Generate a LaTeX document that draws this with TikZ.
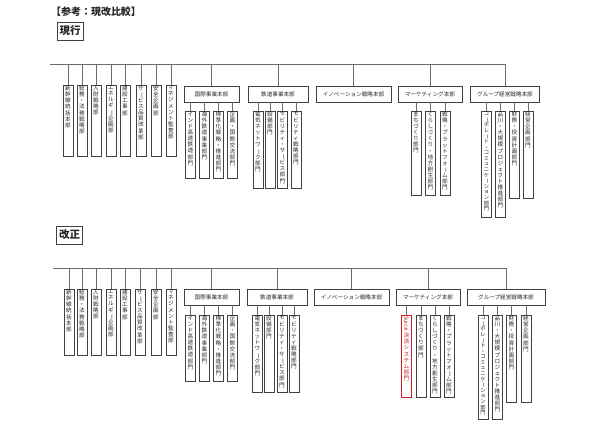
\documentclass[tikz,border=0pt]{standalone}
\usepackage{fontspec}
\setmainfont{Noto Sans CJK JP}
\usepackage{graphicx}
\definecolor{boxline}{gray}{0.25}
\definecolor{linkline}{gray}{0.42}
\definecolor{suicared}{RGB}{205,25,35}

% vertical (tategaki) stacking of a label, one character per line
\ExplSyntaxOn
\seq_new:N \l_tate_seq
\NewDocumentCommand \tatestack { m }
  {
    \seq_clear:N \l_tate_seq
    \exp_args:No \tl_map_inline:nn { #1 }
      {
        \str_if_eq:nnTF { ##1 } { ー }
          { \seq_put_right:Nn \l_tate_seq { \rotatebox[origin=c]{-90}{ー} } }
          { \seq_put_right:Nn \l_tate_seq { ##1 } }
      }
    \seq_use:Nn \l_tate_seq { \\ }
  }
\ExplSyntaxOff
\newcommand\tate[2]{\parbox[c][#1pt][t]{10pt}{\lineskiplimit=-3pt\lineskip=.4pt\vskip.6pt\centering\tatestack{#2}}}

\begin{document}
\begin{tikzpicture}
  [x=1pt,y=-1pt,every node/.style={inner sep=0pt,text=black!85},
   dept/.style={draw=boxline,line width=.7pt,anchor=north,font=\fontsize{5.6}{6.1}\selectfont},
   deptlong/.style={dept,font=\fontsize{5.3}{5.6}\selectfont},
   newdept/.style={dept,draw=suicared,line width=1.3pt,text=suicared},
   hq/.style={draw=boxline,line width=.7pt,minimum height=16pt,font=\fontsize{5.6}{6}\selectfont},
   tag/.style={draw=boxline,line width=.9pt,minimum width=26pt,minimum height=18pt,font=\fontsize{10.5}{12}\selectfont\bfseries},
   link/.style={draw=linkline,line width=.6pt}]
  \useasboundingbox (0,0) rectangle (600,426);
  \node (title) at (96,12) {\fontsize{10}{12}\selectfont\bfseries 【参考：現改比較】};

  % ---- current (現行)
  \node[tag] (oldtag) at (70,31) {現行};
  \coordinate (oBarL) at (50,64);
  \foreach \x/\i/\txt in {68/1/新幹線統括本部,82/2/総務・法務戦略部,96/3/人財戦略部,111/4/エネルギー企画部,
      125/5/建設工事部,141/6/サービス品質改革部,156/7/安全企画部,171/8/マネジメント監査部}
    \node[dept] (oStaff\i) at (\x,85) {\tate{71}{\txt}};
  \node[hq,minimum width=55pt] (oIntl) at (211.5,94) {国際事業本部};
  \node[hq,minimum width=60pt] (oRail) at (278,94) {鉄道事業本部};
  \node[hq,minimum width=75pt] (oInnov) at (353.5,94) {イノベーション戦略本部};
  \node[hq,minimum width=64pt] (oMkt) at (430,94) {マーケティング本部};
  \node[hq,minimum width=69pt] (oGroup) at (505,94) {グループ経営戦略本部};
  \node[dept] (oIntl1) at (190.5,111) {\tate{67}{インド高速鉄道部門}};
  \node[dept] (oIntl2) at (204.5,111) {\tate{67}{海外鉄道事業部門}};
  \node[dept] (oIntl3) at (218.5,111) {\tate{67}{標準化戦略・推進部門}};
  \node[dept] (oIntl4) at (232.5,111) {\tate{67}{企画・国際交流部門}};
  \node[dept] (oRail1) at (258,111) {\tate{77}{電気ネットワーク部門}};
  \node[dept] (oRail2) at (270,111) {\tate{77}{設備部門}};
  \node[dept] (oRail3) at (282.5,111) {\tate{77}{モビリティ・サービス部門}};
  \node[dept] (oRail4) at (296,111) {\tate{77}{モビリティ戦略部門}};
  \node[dept] (oMkt1) at (416,111) {\tate{84}{まちづくり部門}};
  \node[dept] (oMkt2) at (430.5,111) {\tate{84}{くらしづくり・地方創生部門}};
  \node[dept] (oMkt3) at (445,111) {\tate{84}{戦略・プラットフォーム部門}};
  \node[deptlong] (oGroup1) at (486.5,111) {\tate{106}{コーポレート・コミュニケーション部門}};
  \node[dept] (oGroup2) at (500.5,111) {\tate{106}{品川・大規模プロジェクト推進部門}};
  \node[dept] (oGroup3) at (514.5,111) {\tate{87}{財務・投資計画部門}};
  \node[dept] (oGroup4) at (528,111) {\tate{87}{経営企画部門}};

  \draw[link] (oBarL) -- (oGroup.north |- oBarL);
  \foreach \i in {1,...,8}
    \draw[link] (oStaff\i.north) -- (oStaff\i.north |- oBarL);
  \foreach \g in {oIntl,oRail,oInnov,oMkt,oGroup}
    \draw[link] (\g.north) -- (\g.north |- oBarL);
  \foreach \g/\k in {oIntl/4,oRail/4,oMkt/3,oGroup/4}
    \foreach \i in {1,...,\k}
      \draw[link] (\g\i.north) -- (\g\i.north |- \g.south);

  % ---- revised (改正)
  \node[tag] (newtag) at (69.5,235) {改正};
  \coordinate (nBarL) at (53,268);
  \foreach \x/\i/\txt in {69/1/新幹線統括本部,82/2/総務・法務戦略部,96/3/人財戦略部,111/4/エネルギー企画部,
      125/5/建設工事部,140/6/サービス品質改革部,156/7/安全企画部,171/8/マネジメント監査部}
    \node[dept] (nStaff\i) at (\x,289) {\tate{66}{\txt}};
  \node[hq,minimum width=55pt] (nIntl) at (211.5,297) {国際事業本部};
  \node[hq,minimum width=60pt] (nRail) at (277,297) {鉄道事業本部};
  \node[hq,minimum width=75pt] (nInnov) at (351.5,297) {イノベーション戦略本部};
  \node[hq,minimum width=64pt] (nMkt) at (428,297) {マーケティング本部};
  \node[hq,minimum width=78pt] (nGroup) at (506,297) {グループ経営戦略本部};
  \node[dept] (nIntl1) at (190.5,315) {\tate{66}{インド高速鉄道部門}};
  \node[dept] (nIntl2) at (204.5,315) {\tate{66}{海外鉄道事業部門}};
  \node[dept] (nIntl3) at (218.5,315) {\tate{66}{標準化戦略・推進部門}};
  \node[dept] (nIntl4) at (232.5,315) {\tate{66}{企画・国際交流部門}};
  \node[dept] (nRail1) at (257.5,315) {\tate{77}{電気ネットワーク部門}};
  \node[dept] (nRail2) at (269,315) {\tate{77}{設備部門}};
  \node[dept] (nRail3) at (282,315) {\tate{77}{モビリティ・サービス部門}};
  \node[dept] (nRail4) at (294,315) {\tate{77}{モビリティ戦略部門}};
  \node[newdept] (nMkt1) at (406.5,315) {\tate{82}{{\rotatebox[origin=c]{-90}{Suica}}・決済システム部門}};
  \node[dept] (nMkt2) at (421,315) {\tate{82}{まちづくり部門}};
  \node[dept] (nMkt3) at (435,315) {\tate{82}{くらしづくり・地方創生部門}};
  \node[dept] (nMkt4) at (449,315) {\tate{82}{戦略・プラットフォーム部門}};
  \node[deptlong] (nGroup1) at (483,315) {\tate{104}{コーポレート・コミュニケーション部門}};
  \node[dept] (nGroup2) at (497.5,315) {\tate{104}{品川・大規模プロジェクト推進部門}};
  \node[dept] (nGroup3) at (511.5,315) {\tate{87}{財務・投資計画部門}};
  \node[dept] (nGroup4) at (526,315) {\tate{87}{経営企画部門}};

  \draw[link] (nBarL) -- (nGroup.north |- nBarL);
  \foreach \i in {1,...,8}
    \draw[link] (nStaff\i.north) -- (nStaff\i.north |- nBarL);
  \foreach \g in {nIntl,nRail,nInnov,nMkt,nGroup}
    \draw[link] (\g.north) -- (\g.north |- nBarL);
  \foreach \g/\k in {nIntl/4,nRail/4,nMkt/4,nGroup/4}
    \foreach \i in {1,...,\k}
      \draw[link] (\g\i.north) -- (\g\i.north |- \g.south);
\end{tikzpicture}
\end{document}
